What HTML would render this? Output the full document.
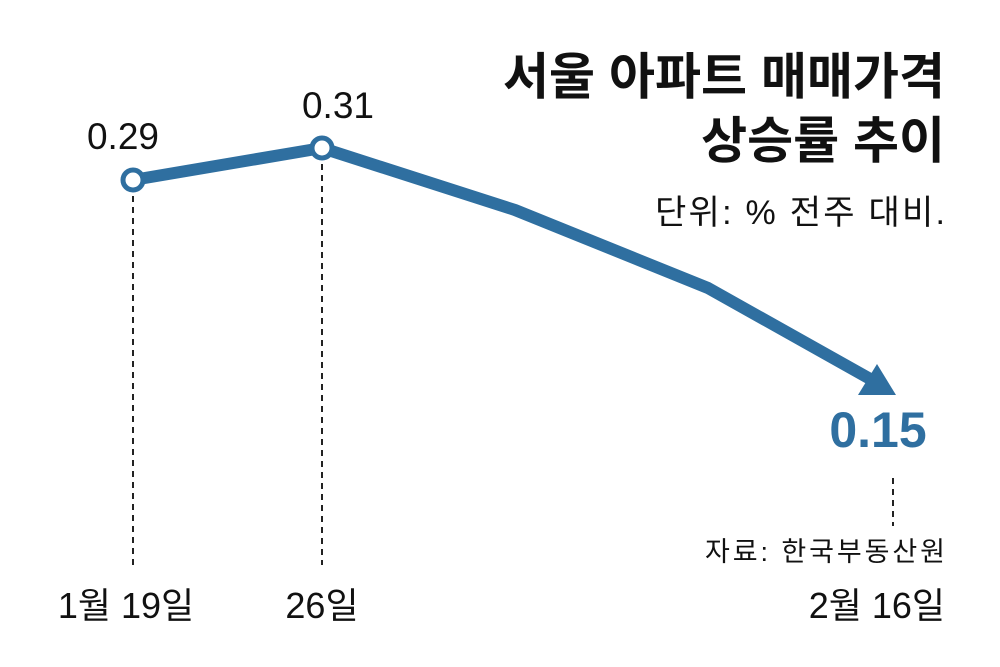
<!DOCTYPE html>
<html><head><meta charset="utf-8"><style>
body{margin:0;background:#fff}
svg text{font-family:"Liberation Sans","Noto Sans CJK KR",sans-serif}
</style></head><body>
<svg width="1000" height="662" viewBox="0 0 1000 662">
<rect width="1000" height="662" fill="#fff"/>
<g stroke="#222" stroke-width="2" stroke-dasharray="6,5">
<line x1="133" y1="196" x2="133" y2="565"/>
<line x1="322" y1="164" x2="322" y2="565"/>
<line x1="893" y1="478" x2="893" y2="526"/>
</g>
<polyline points="133,180 322,148 515,210 708,288 872,380" fill="none" stroke="#2f6fa0" stroke-width="12" stroke-linejoin="round"/>
<polygon points="858,395 896,395 877,364" fill="#2f6fa0"/>
<circle cx="133" cy="180" r="10" fill="#fff" stroke="#2f6fa0" stroke-width="5"/>
<circle cx="322" cy="148" r="10" fill="#fff" stroke="#2f6fa0" stroke-width="5"/>
<text x="123" y="149" font-size="37" text-anchor="middle" fill="#111">0.29</text>
<text x="338" y="118" font-size="37" text-anchor="middle" fill="#111">0.31</text>
<text x="878" y="447" font-size="50" font-weight="bold" text-anchor="middle" fill="#2f6fa0">0.15</text>
<text x="945" y="94" font-size="50" font-weight="bold" text-anchor="end" fill="#111" textLength="442">서울 아파트 매매가격</text>
<text x="945" y="158" font-size="50" font-weight="bold" text-anchor="end" fill="#111">상승률 추이</text>
<text x="945" y="224" font-size="34" text-anchor="end" fill="#111" textLength="290">단위: % 전주 대비.</text>
<text x="945" y="561" font-size="27" text-anchor="end" fill="#111" textLength="240">자료: 한국부동산원</text>
<text x="126" y="618" font-size="36" text-anchor="middle" fill="#111">1월 19일</text>
<text x="322" y="618" font-size="36" text-anchor="middle" fill="#111">26일</text>
<text x="945" y="618" font-size="36" text-anchor="end" fill="#111">2월 16일</text>
</svg>
</body></html>
